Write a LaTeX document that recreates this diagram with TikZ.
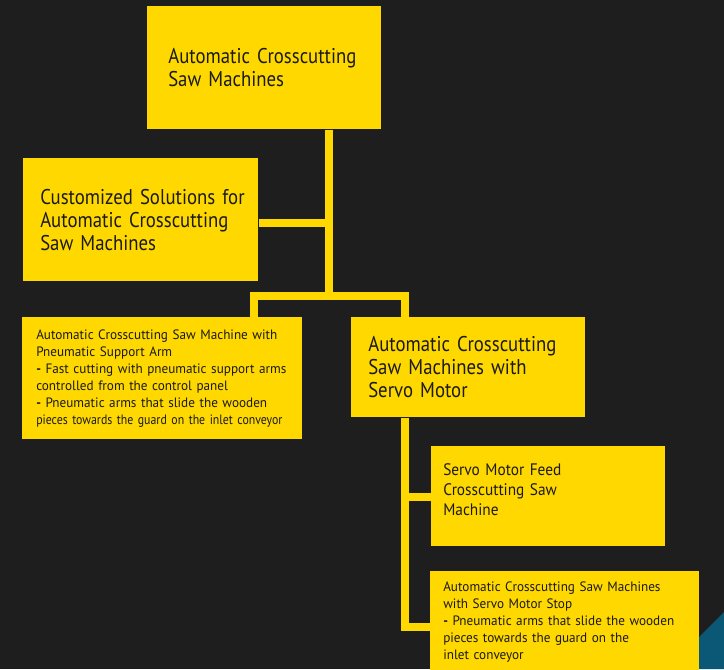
\documentclass[tikz,border=0pt]{standalone}
\usepackage{fontspec}
\setmainfont[FakeStretch=0.88]{PT Sans}
\newfontfamily\midfam[FakeStretch=0.92]{PT Sans}
\newfontfamily\smallfam[FakeStretch=0.97]{PT Sans}
\newfontfamily\narrowfam[FakeStretch=0.87]{PT Sans}
\definecolor{backdrop}{HTML}{1E1E1E}
\definecolor{signal}{HTML}{FFD800}
\definecolor{ink}{HTML}{1A1A1A}
\definecolor{teal}{HTML}{0B5876}
\newcommand{\bigtxt}{\fontsize{16}{17.25}\selectfont}
\newcommand{\midtxt}{\midfam\fontsize{12.5}{15}\selectfont}
\newcommand{\smalltxt}{\smallfam\fontsize{10.2}{12.75}\selectfont}
\newcommand{\squeezed}[1]{{\narrowfam\fontsize{10.2}{12.75}\selectfont #1}}
\tikzset{
  card/.style={fill=signal,text=ink,anchor=north west,align=left,inner ysep=0pt,inner xsep=0pt},
  lpad/.style={execute at begin node={\leftskip=#1}},
  link/.style={signal,line width=6pt,line join=miter}
}

\begin{document}
\begin{tikzpicture}[x=0.75pt,y=-0.75pt]
  \useasboundingbox (0,0) rectangle (724,669);
  \fill[backdrop] (0,0) rectangle (724,669);
  % corner of the photo behind the last card
  \fill[teal] (699,637) -- (724,612) -- (724,669) -- (699,669) -- cycle;
  % cards
  \node[card,font=\bigtxt,text width=175.5pt,lpad=15.75pt,minimum height=92.25pt] (ttl) at (147,6)
        {Automatic Crosscutting\\Saw Machines};
  \node[card,font=\bigtxt,text width=176.25pt,lpad=12.75pt,minimum height=92.25pt] (cust) at (23,158)
        {Customized Solutions for\\Automatic Crosscutting\\Saw Machines};
  \node[card,font=\smalltxt,text width=210pt,lpad=10.5pt,minimum height=91.5pt] (pneu) at (22,317)
        {Automatic Crosscutting Saw Machine with\\Pneumatic Support Arm\\
         \textbf{-} Fast cutting with pneumatic support arms\\controlled from the control panel\\
         \textbf{-} Pneumatic arms that slide the wooden\\\squeezed{pieces towards the guard on the inlet conveyor}};
  \node[card,font=\bigtxt,text width=175.5pt,lpad=12.75pt,minimum height=75pt] (servo) at (351,317)
        {Automatic Crosscutting\\Saw Machines with\\Servo Motor};
  \node[card,font=\midtxt,text width=175.5pt,lpad=9pt,minimum height=75pt] (feed) at (431,446)
        {Servo Motor Feed\\Crosscutting Saw\\Machine\rule[-10.5pt]{0pt}{0pt}};
  \node[card,font=\smalltxt,text width=201.75pt,lpad=9.75pt,minimum height=75.75pt] (stop) at (430,571)
        {Automatic Crosscutting Saw Machines\\with Servo Motor Stop\\
         \textbf{-} Pneumatic arms that slide the wooden\\pieces towards the guard on the\\inlet conveyor};
  % joints of the tree
  \coordinate (j1) at (329,223);
  \coordinate (j2) at (329,296);
  \coordinate (jl) at (254,296);
  \coordinate (jr) at (405,296);
  \coordinate (k1) at (405,497);
  \coordinate (k2) at (405,627);
  % connectors
  \draw[link] (ttl.south -| j1) -- (j2);
  \draw[link] (cust.east |- j1) -- (j1);
  \draw[link] (pneu.north -| jl) -- (jl) -- (jr) -- (servo.north -| jr);
  \draw[link] (servo.south -| k1) -- (k2) -- (stop.west |- k2);
  \draw[link] (k1) -- (feed.west |- k1);
\end{tikzpicture}
\end{document}
